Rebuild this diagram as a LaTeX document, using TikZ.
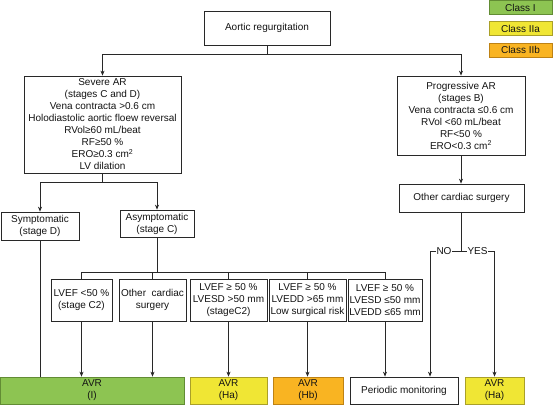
\documentclass[tikz,border=0pt]{standalone}
\usepackage{fontspec}
\setmainfont{Liberation Sans}
\usetikzlibrary{arrows.meta}
\definecolor{gfill}{RGB}{141,196,82}
\definecolor{gline}{RGB}{98,140,52}
\definecolor{yfill}{RGB}{240,230,52}
\definecolor{yline}{RGB}{170,160,40}
\definecolor{ofill}{RGB}{249,180,34}
\definecolor{oline}{RGB}{190,130,20}
\definecolor{lncol}{RGB}{40,40,40}
\begin{document}
\begin{tikzpicture}[x=1pt,y=-1pt,
  box/.style={draw=lncol,line width=0.75pt,fill=white,inner sep=0pt,align=center,
    font=\fontsize{10}{12}\selectfont,text=black!92},
  gbox/.style={box,draw=gline,fill=gfill},
  ybox/.style={box,draw=yline,fill=yfill},
  obox/.style={box,draw=oline,fill=ofill},
  ln/.style={draw=lncol,line width=0.75pt},
  arr/.style={ln,-{Stealth[length=5pt,width=4pt]}},
  lbl/.style={fill=white,inner sep=0.8pt,font=\fontsize{10}{12}\selectfont,text=black!92}]
\useasboundingbox[fill=white] (0,0) rectangle (553,405);

\node[box,minimum width=126pt,minimum height=34pt] (aortic) at (267,28) {Aortic regurgitation};
\node[gbox,minimum width=63pt,minimum height=14pt] (c1) at (520.5,7.5) {Class I};
\node[ybox,minimum width=63pt,minimum height=14pt] (c2) at (520.5,28.5) {Class IIa};
\node[obox,minimum width=63pt,minimum height=14pt] (c3) at (520.5,50.3) {Class IIb};

\node[box,minimum width=157pt,minimum height=97pt] (severe) at (102.5,124.5)
  {Severe AR\\(stages C and D)\\Vena contracta >0.6 cm\\Holodiastolic aortic floew reversal\\RVol≥60 mL/beat\\RF≥50 \%\\ERO≥0.3 cm\textsuperscript{2}\\LV dilation};
\node[box,minimum width=128pt,minimum height=79pt] (prog) at (461,115.5)
  {Progressive AR\\(stages B)\\Vena contracta ≤0.6 cm\\RVol <60 mL/beat\\RF<50 \%\\ERO<0.3 cm\textsuperscript{2}};
\node[box,minimum width=125pt,minimum height=28pt] (oth) at (461.5,198) {Other cardiac surgery};

\node[box,minimum width=78pt,minimum height=28pt] (sympt) at (40,226) {Symptomatic\\(stage D)};
\node[box,minimum width=74pt,minimum height=27pt] (asympt) at (157,223.5) {Asymptomatic\\(stage C)};

\node[box,minimum width=61pt,minimum height=42pt] (b1) at (81.5,300) {LVEF <50 \%\\(stage C2)};
\node[box,minimum width=67pt,minimum height=42pt] (b2) at (152.5,300) {Other~ cardiac\\surgery};
\node[box,minimum width=77pt,minimum height=42pt] (b3) at (228.5,300) {LVEF ≥ 50 \%\\LVESD >50 mm\\(stageC2)};
\node[box,minimum width=77pt,minimum height=42pt] (b4) at (307.5,300) {LVEF ≥ 50 \%\\LVEDD >65 mm\\Low surgical risk};
\node[box,minimum width=74pt,minimum height=42pt] (b5) at (385,300) {LVEF ≥ 50 \%\\LVESD ≤50 mm\\LVEDD ≤65 mm};

\node[gbox,minimum width=184pt,minimum height=27pt] (avr1) at (92,390.5) {AVR\\(I)};
\node[ybox,minimum width=77pt,minimum height=27pt] (avr2) at (228.5,390.5) {AVR\\(Ha)};
\node[obox,minimum width=70pt,minimum height=27pt] (avr3) at (308,390.5) {AVR\\(Hb)};
\node[box,minimum width=108pt,minimum height=27pt] (pm) at (404,390.5) {Periodic monitoring};
\node[ybox,minimum width=59pt,minimum height=27pt] (avr4) at (494.5,390.5) {AVR\\(Ha)};

% connectors
\coordinate (j1) at (267,54);
\draw[ln] (aortic.south) -- (j1);
\draw[arr] (j1) -| (severe.north);
\draw[arr] (j1) -| (prog.north);

\coordinate (j2) at (102.5,182);
\draw[ln] (severe.south) -- (j2);
\draw[arr] (j2) -| (sympt.north);
\draw[arr] (j2) -| (asympt.north);

\coordinate (j3) at (157,272.5);
\draw[ln] (asympt.south) -- (j3);
\draw[ln] (b1.north) |- (j3);
\draw[ln] (b5.north) |- (j3);
\draw[ln] (b2.north) -- (b2.north |- j3);
\draw[ln] (b3.north) -- (b3.north |- j3);
\draw[ln] (b4.north) -- (b4.north |- j3);

\draw[ln] (sympt.south) -- (sympt.south |- avr1.north);
\draw[arr] (b1.south) -- (b1.south |- avr1.north);
\draw[arr] (b2.south) -- (b2.south |- avr1.north);
\draw[arr] (b3.south) -- (avr2.north -| b3.south);
\draw[arr] (b4.south) -- (avr3.north -| b4.south);
\draw[arr] (b5.south) -- (pm.north -| b5.south);

\draw[arr] (prog.south) -- (oth.north -| prog.south);
\coordinate (j4) at (461.5,251);
\coordinate (jno) at (430,251);
\coordinate (jyes) at (494.5,251);
\draw[ln] (oth.south) -- (j4);
\draw[ln] (jno) -- (jyes);
\draw[arr] (jno) -- (jno |- pm.north);
\draw[arr] (jyes) -- (avr4.north);
\node[lbl] (no) at (444,251) {NO};
\node[lbl] (yes) at (477.5,251) {YES};
\end{tikzpicture}
\end{document}
